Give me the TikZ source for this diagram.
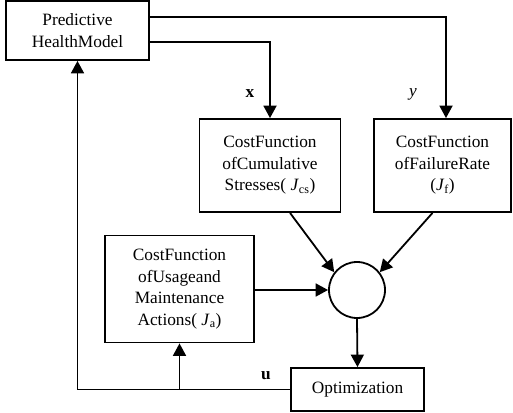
\documentclass[tikz,border=0pt]{standalone}
\usepackage{fontspec}
\setmainfont{Liberation Serif}
\usetikzlibrary{arrows.meta}
\begin{document}
\begin{tikzpicture}[x=1pt,y=-1pt,
  every node/.style={font=\fontsize{17.3}{21.5}\selectfont},
  blk/.style={draw,line width=1.8pt,inner sep=0pt,align=center},
  con/.style={line width=1.8pt,-{Triangle[length=12.5pt,width=13pt]}},
  lin/.style={line width=1.8pt}]
\useasboundingbox (0,0) rectangle (513,412);
\node[blk,minimum width=143pt,minimum height=59pt] (pred) at (77.5,30.5) {Predictive\\HealthModel};
\node[blk,minimum width=141pt,minimum height=93pt] (cum) at (270,165.5) {CostFunction\\ofCumulative\\Stresses( \textit{J}\textsubscript{cs})};
\node[blk,minimum width=137pt,minimum height=93pt] (fail) at (442.5,165.5) {CostFunction\\ofFailureRate\\(\textit{J}\textsubscript{f})};
\node[blk,minimum width=149pt,minimum height=107pt] (use) at (179.5,289) {CostFunction\\ofUsageand\\Maintenance\\Actions( \textit{J}\textsubscript{a})};
\node[draw,line width=1.8pt,circle,minimum size=56pt,inner sep=0pt] (circ) at (357,290) {};
\node[blk,minimum width=133pt,minimum height=43pt] (opt) at (357.5,389.5) {Optimization};
\draw[con] ([yshift=13.5pt]pred.east) -| ([xshift=3.5pt]fail.north);
\draw[con] ([yshift=-11.5pt]pred.east) -| (cum.north);
\node (lx) at (250,94) {\textbf{x}};
\node (ly) at (413,94) {\textit{y}};
\draw[con] ([xshift=20pt]cum.south) -- (circ.142);
\draw[con] ([xshift=-10pt]fail.south) -- (circ.38);
\draw[con] (use.east |- circ.west) -- (circ.west);
\draw[con] (circ.south) -- (opt.north);
\draw[con] (opt.west) -| (pred.south);
\draw[con] (use.south |- opt.west) -- (use.south);
\node (lu) at (266,376) {\textbf{u}};
\end{tikzpicture}
\end{document}
